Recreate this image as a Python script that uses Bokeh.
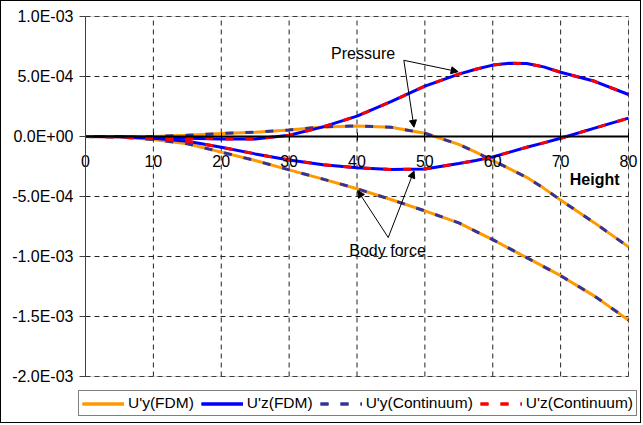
from bokeh.plotting import figure
from bokeh.models import (LinearAxis, FixedTicker, Legend, LegendItem, Arrow, NormalHead,
                          Label, Range1d, CustomJSTickFormatter, BoxAnnotation)
from bokeh.embed import file_html
from bokeh.resources import INLINE

# ---- data ----
height = [0, 5, 10, 15, 20, 25, 30, 35, 40, 45, 50, 55, 57.5, 60, 62.5, 65, 67.5, 70, 75, 80]
uy_pressure = [0, 0, 0, 1.0e-5, 2.5e-5, 3.6e-5, 5.5e-5, 8.0e-5, 8.8e-5, 7.7e-5, 2.7e-5,
               -6.6e-5, -1.3e-4, -2.0e-4, -2.7e-4, -3.4e-4, -4.3e-4, -5.3e-4, -7.2e-4, -9.2e-4]
uz_pressure = [0, 0, -1.0e-5, -1.5e-5, -2.0e-5, -2.0e-5, 1.0e-5, 8.0e-5, 1.7e-4, 2.9e-4,
               4.2e-4, 5.2e-4, 5.6e-4, 5.95e-4, 6.1e-4, 6.08e-4, 5.8e-4, 5.35e-4, 4.6e-4, 3.5e-4]
uy_body = [0, -5.0e-6, -2.5e-5, -6.0e-5, -1.3e-4, -2.0e-4, -2.78e-4, -3.55e-4, -4.35e-4,
           -5.25e-4, -6.2e-4, -7.2e-4, -7.9e-4, -8.6e-4, -9.35e-4, -1.01e-3, -1.085e-3,
           -1.16e-3, -1.33e-3, -1.53e-3]
uz_body = [0, -3.0e-6, -1.5e-5, -4.0e-5, -9.0e-5, -1.45e-4, -1.95e-4, -2.35e-4, -2.6e-4,
           -2.75e-4, -2.7e-4, -2.25e-4, -2.0e-4, -1.7e-4, -1.3e-4, -9.0e-5, -5.3e-5,
           -1.5e-5, 7.0e-5, 1.53e-4]

x_ticks = [0, 10, 20, 30, 40, 50, 60, 70, 80]
y_ticks = [-2.0e-3, -1.5e-3, -1.0e-3, -5.0e-4, 0.0, 5.0e-4, 1.0e-3]
series_names = ["U'y(FDM)", "U'z(FDM)", "U'y(Continuum)", "U'z(Continuum)"]

FONT = "Liberation Sans"
ORANGE = "#FF9900"
BLUE = "#0000FF"
NAVY = "#333399"
RED = "#FF0000"
DASH = "8 12"

# ---- layout: the frame fills the whole canvas; the plot area is placed inside it ----
W, H = 641, 423                 # canvas (plus 1px css border -> 643 x 425)
PX_L, PX_R = 84, 627            # pixel columns of x = 0 and x = 80
PX_T, PX_B = 15, 375            # pixel rows of y = 1e-3 and y = -2e-3
x_lo, x_hi = x_ticks[0], x_ticks[-1]
y_lo, y_hi = y_ticks[0], y_ticks[-1]
ux = (x_hi - x_lo) / (PX_R - PX_L)
uy = (y_hi - y_lo) / (PX_B - PX_T)
x_range = Range1d(x_lo - PX_L * ux, x_hi + (W - PX_R) * ux)
y_range = Range1d(y_lo - (H - PX_B) * uy, y_hi + PX_T * uy)

p = figure(width=W, height=H, output_backend="svg", toolbar_location=None,
           x_range=x_range, y_range=y_range,
           x_axis_location=None, y_axis_location=None, min_border=0)
p.styles = {"border": "1px solid #000000"}
p.outline_line_color = None
p.background_fill_color = "white"
p.border_fill_color = "white"
p.grid.visible = False

# dashed grid lines, limited to the plot area
vg = p.segment(x0=x_ticks, y0=[y_lo] * len(x_ticks), x1=x_ticks, y1=[y_hi] * len(x_ticks),
               line_color="#222222", line_dash="5 4", line_width=1, level="underlay")
hg = p.segment(x0=[x_lo] * len(y_ticks), y0=y_ticks, x1=[x_hi] * len(y_ticks), y1=y_ticks,
               line_color="#222222", line_dash="5 4", line_width=1, level="underlay")

# plot-area border
p.add_layout(BoxAnnotation(left=x_lo, right=x_hi, bottom=y_lo, top=y_hi,
                           fill_alpha=0, line_color="#808080", line_width=1, level="underlay"))

# y axis at x = 0
yaxis = LinearAxis(ticker=FixedTicker(ticks=y_ticks), fixed_location=x_lo, bounds=(y_lo, y_hi))
yaxis.formatter = CustomJSTickFormatter(code="""
    let s = tick.toExponential(1).toUpperCase();
    let parts = s.split('E');
    let e = parts[1];
    let sign = e[0];
    let d = e.slice(1);
    if (d.length < 2) { d = '0' + d; }
    return parts[0] + 'E' + sign + d;
""")
yaxis.axis_line_color = "#404040"
yaxis.major_tick_line_color = "#404040"
yaxis.major_tick_out = 6
yaxis.major_tick_in = 0
yaxis.minor_tick_line_color = None
yaxis.major_label_standoff = 6
yaxis.major_label_text_font = FONT
yaxis.major_label_text_font_size = "16px"
yaxis.major_label_text_color = "black"
p.add_layout(yaxis, "left")

# x axis crossing at zero
xaxis = LinearAxis(ticker=FixedTicker(ticks=x_ticks), fixed_location=0, bounds=(x_lo, x_hi))
xaxis.axis_line_color = "black"
xaxis.axis_line_width = 2
xaxis.major_tick_line_color = "black"
xaxis.major_tick_in = 4
xaxis.major_tick_out = 4
xaxis.minor_tick_line_color = None
xaxis.major_label_standoff = 14
xaxis.major_label_text_font = FONT
xaxis.major_label_text_font_size = "16px"
xaxis.major_label_text_color = "black"
p.add_layout(xaxis, "below")

# curves
r1a = p.line(height, uy_pressure, line_color=ORANGE, line_width=3)
r1b = p.line(height, uy_body, line_color=ORANGE, line_width=3)
r2a = p.line(height, uz_pressure, line_color=BLUE, line_width=3)
r2b = p.line(height, uz_body, line_color=BLUE, line_width=3)
r3a = p.line(height, uy_pressure, line_color=NAVY, line_width=3, line_dash=DASH)
r3b = p.line(height, uy_body, line_color=NAVY, line_width=3, line_dash=DASH)
r4a = p.line(height, uz_pressure, line_color=RED, line_width=3, line_dash=DASH)
r4b = p.line(height, uz_body, line_color=RED, line_width=3, line_dash=DASH)

legend = Legend(items=[
    LegendItem(label=series_names[0], renderers=[r1a, r1b]),
    LegendItem(label=series_names[1], renderers=[r2a, r2b]),
    LegendItem(label=series_names[2], renderers=[r3a, r3b]),
    LegendItem(label=series_names[3], renderers=[r4a, r4b]),
], orientation="horizontal", location=(77, 8), margin=0, padding=3, spacing=7,
    glyph_width=42, glyph_height=17, label_height=17, label_standoff=4,
    label_text_font=FONT, label_text_font_size="15.5px", label_text_color="black",
    border_line_color="black", border_line_width=1, background_fill_color="white",
    background_fill_alpha=1.0)
p.add_layout(legend)

# annotations
def arrow(x0, y0, x1, y1):
    p.add_layout(Arrow(end=NormalHead(size=7, fill_color="black", line_color="black", line_width=1),
                       x_start=x0, y_start=y0, x_end=x1, y_end=y1,
                       line_color="black", line_width=1))

arrow(46.9, 6.35e-4, 54.9, 5.4e-4)
arrow(46.9, 6.35e-4, 48.4, 7.7e-5)
arrow(44.6, -8.42e-4, 40.1, -4.5e-4)
arrow(44.6, -8.42e-4, 48.4, -2.87e-4)

p.add_layout(Label(x=40.9, y=6.9e-4, text="Pressure", text_align="center", text_baseline="middle",
                   text_font=FONT, text_font_size="16px", text_color="black"))
p.add_layout(Label(x=44.5, y=-9.54e-4, text="Body force", text_align="center", text_baseline="middle",
                   text_font=FONT, text_font_size="16px", text_color="black"))
p.add_layout(Label(x=x_hi, y=-3.58e-4, x_offset=-9, text="Height", text_align="right",
                   text_baseline="middle", text_font=FONT, text_font_size="16px",
                   text_font_style="bold", text_color="black"))

open("out.html", "w").write(file_html(p, INLINE))
